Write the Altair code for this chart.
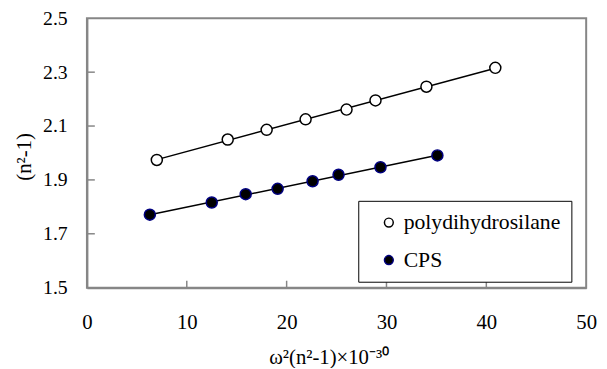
import altair as alt
import pandas as pd

series_names = ["polydihydrosilane", "CPS"]

poly_x = [7.0, 14.1, 18.0, 21.9, 26.0, 28.9, 34.0, 40.9]
poly_y = [1.974, 2.050, 2.086, 2.125, 2.161, 2.195, 2.246, 2.316]

cps_x = [6.3, 12.5, 15.9, 19.1, 22.6, 25.2, 29.4, 35.1]
cps_y = [1.771, 1.816, 1.847, 1.867, 1.895, 1.919, 1.947, 1.991]

x_tick_labels = [0, 10, 20, 30, 40, 50]
y_tick_labels = [1.5, 1.7, 1.9, 2.1, 2.3, 2.5]
x_inner_ticks = [10, 20, 30, 40]
y_inner_ticks = [1.7, 1.9, 2.1, 2.3]

rows = []
for xv, yv in zip(poly_x, poly_y):
    rows.append({"x": xv, "y": yv, "series": series_names[0]})
for xv, yv in zip(cps_x, cps_y):
    rows.append({"x": xv, "y": yv, "series": series_names[1]})
df = pd.DataFrame(rows)

GRAY = "#868686"
FONT = "Liberation Serif"
W, H = 506, 273

xscale = alt.Scale(domain=[0, 50], nice=False, zero=False)
yscale = alt.Scale(domain=[1.5, 2.5], nice=False, zero=False)

xaxis = alt.Axis(
    values=x_tick_labels, ticks=False, tickSize=0, grid=False,
    labelPadding=24, labelFlush=False, labelOverlap=False,
    title="ω²(n²-1)×10⁻³⁰", titleX=245, titleY=77, titleAlign="center",
    titleBaseline="alphabetic",
    domainColor=GRAY, domainWidth=2,
    labelFontSize=21, titleFontSize=21,
    titleFontWeight="normal", labelColor="black", titleColor="black",
)
yaxis = alt.Axis(
    values=y_tick_labels, format=".1f", ticks=False, tickSize=0, grid=False,
    labelPadding=20, labelFlush=False, labelOverlap=False,
    title="(n²-1)", titleX=-63, titleY=140, titleAngle=270,
    titleAlign="center", titleBaseline="middle",
    domainColor=GRAY, domainWidth=2,
    labelFontSize=20, titleFontSize=21,
    titleFontWeight="normal", labelColor="black", titleColor="black",
)

legend = alt.Legend(
    title=None, orient="none", legendX=275, legendY=185,
    strokeColor="black", fillColor="white", padding=11, symbolOffset=9,
    labelFontSize=22, labelColor="black",
    symbolSize=80, symbolStrokeWidth=1.5, rowPadding=16,
    symbolType="circle", labelOffset=4,
)

base = alt.Chart(df)

points = base.mark_point(filled=True, size=125, strokeWidth=1.5, opacity=1).encode(
    x=alt.X("x:Q", scale=xscale, axis=xaxis),
    y=alt.Y("y:Q", scale=yscale, axis=yaxis),
    fill=alt.Fill("series:N", scale=alt.Scale(domain=series_names, range=["white", "black"]), legend=legend),
    stroke=alt.Stroke("series:N", scale=alt.Scale(domain=series_names, range=["black", "#000080"]), legend=legend),
)

line = base.transform_regression("x", "y", groupby=["series"]).mark_line(
    color="black", strokeWidth=1.5
).encode(
    x=alt.X("x:Q", scale=xscale, axis=xaxis),
    y=alt.Y("y:Q", scale=yscale, axis=yaxis),
    detail="series:N",
)

ytick = alt.Chart(pd.DataFrame({"v": y_inner_ticks})).mark_rule(color=GRAY, strokeWidth=1.5).encode(
    y=alt.Y("v:Q", scale=yscale, axis=yaxis), x=alt.value(0), x2=alt.value(8)
)
xtick = alt.Chart(pd.DataFrame({"v": x_inner_ticks})).mark_rule(color=GRAY, strokeWidth=1.5).encode(
    x=alt.X("v:Q", scale=xscale, axis=xaxis), y=alt.value(H), y2=alt.value(H - 7)
)

chart = alt.layer(line, ytick, xtick, points).properties(
    width=W, height=H,
    autosize=alt.AutoSizeParams(type="none"),
    padding={"left": 80, "top": 8, "right": 13, "bottom": 79},
).configure(
    font=FONT
).configure_axis(
    labelFont=FONT, titleFont=FONT
).configure_legend(
    labelFont=FONT, titleFont=FONT
).configure_view(stroke=GRAY, strokeWidth=2)

chart.save("out.html", embed_options={"renderer": "svg", "actions": False})
